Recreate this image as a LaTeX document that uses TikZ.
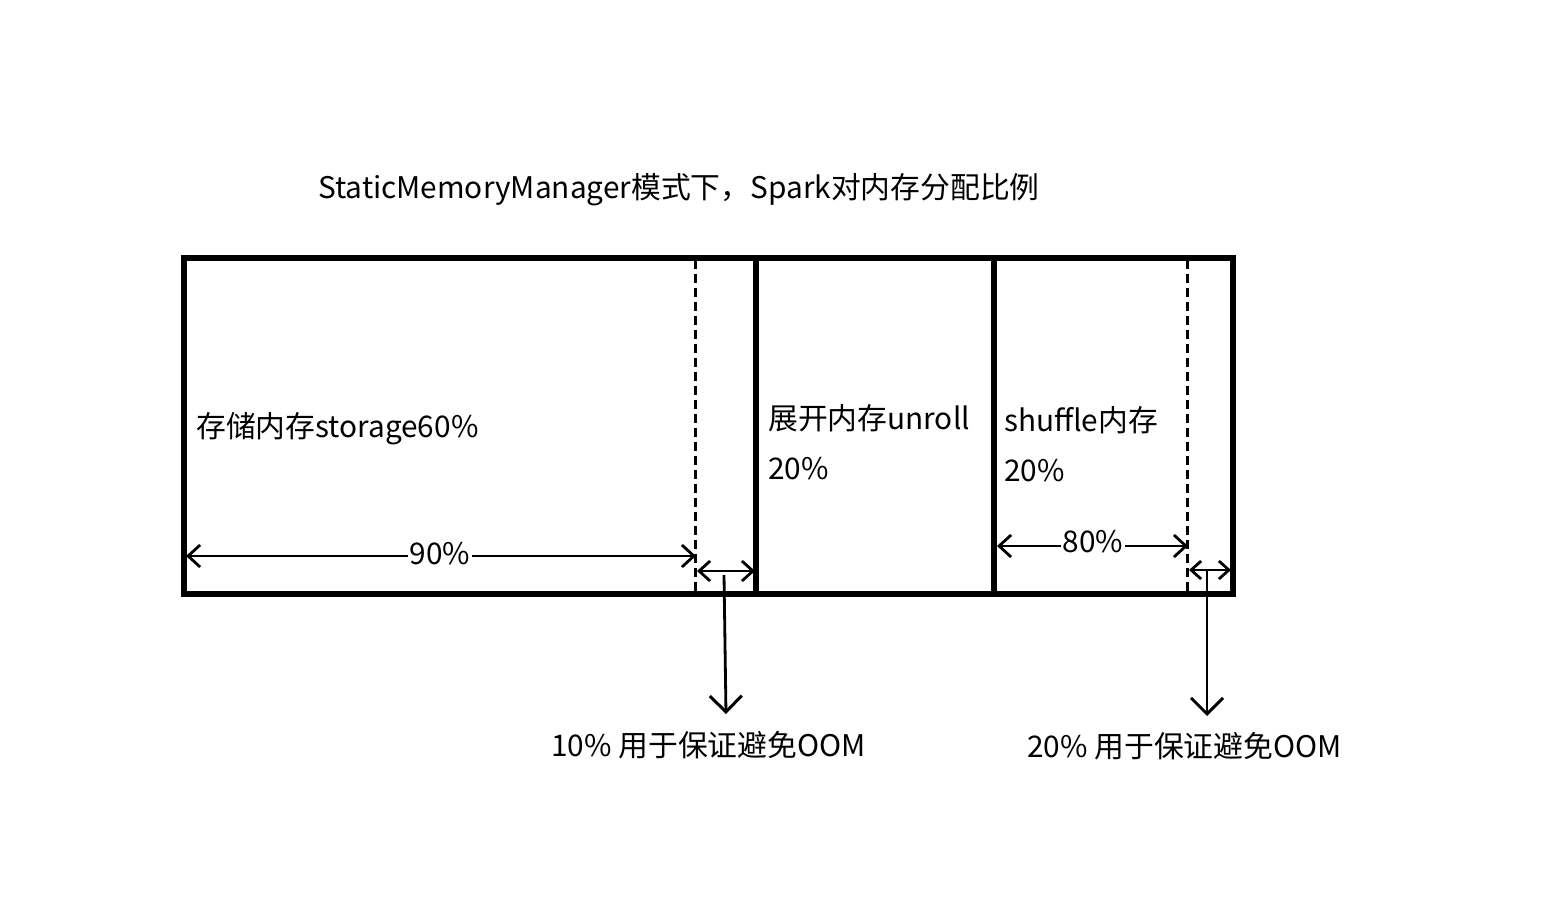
\documentclass[tikz,border=0pt]{standalone}
\usepackage{fontspec}
\setmainfont{Noto Sans CJK SC}
\usetikzlibrary{arrows.meta}
\begin{document}
\begin{tikzpicture}[x=1pt,y=-1pt,
  lbl/.style={anchor=base west,inner sep=0pt,font=\fontsize{29.8}{34}\selectfont},
  pct/.style={inner sep=2pt,font=\fontsize{29.8}{34}\selectfont},
  dimline/.style={line width=2.8pt},
  downarrow/.style={line width=2.8pt,-{Straight Barb[length=16pt,width=32pt,line width=3pt]}},
  frame/.style={line width=5.4pt},
  dashline/.style={line width=3pt,dash pattern=on 9pt off 5pt}]
\useasboundingbox (0,0) rectangle (1560,910);
% frame and dividers
\draw[frame] (184,258) rectangle (1233,594);
\draw[frame] (756,258) -- (756,597);
\draw[frame] (994,258) -- (994,594);
\draw[dashline] (695,260) -- (695,594);
\draw[dashline] (1187,260) -- (1187,594);
% texts
\node[lbl] (title) at (318,198) {StaticMemoryManager模式下，Spark对内存分配比例};
\node[lbl] (storage) at (196,437) {存储内存storage60\%};
\node[lbl] (unroll) at (768,429) {展开内存unroll};
\node[lbl] (unrollp) at (768,479) {20\%};
\node[lbl] (shuffle) at (1004,431) {shuffle内存};
\node[lbl] (shufflep) at (1004,481) {20\%};
\node[lbl] (oom1) at (551,756) {10\% 用于保证避免OOM};
\node[lbl] (oom2) at (1027,757) {20\% 用于保证避免OOM};
% 90% dimension
\coordinate (a1) at (186,556);
\coordinate (a2) at (696,556);
\node[pct] (p90) at (440,554) {90\%};
\draw[dimline,{Straight Barb[length=12pt,width=22pt,line width=2.8pt]}-] (a1) -- (a1 -| p90.west);
\draw[dimline,-{Straight Barb[length=12pt,width=22pt,line width=2.8pt]}] (a2 -| p90.east) -- (a2);
% 80% dimension
\coordinate (b1) at (997,546);
\coordinate (b2) at (1188,546);
\node[pct] (p80) at (1093,542) {80\%};
\draw[dimline,{Straight Barb[length=12pt,width=22pt,line width=2.8pt]}-] (b1) -- (b1 -| p80.west);
\draw[dimline,-{Straight Barb[length=12pt,width=22pt,line width=2.8pt]}] (b2 -| p80.east) -- (b2);
% small dims
\coordinate (c1) at (697,571);
\coordinate (c2) at (755,571);
\draw[dimline,{Straight Barb[length=11pt,width=20pt,line width=2.8pt]}-{Straight Barb[length=11pt,width=20pt,line width=2.8pt]}] (c1) -- (c2);
\coordinate (d1) at (1189,570);
\coordinate (d2) at (1231,570);
\draw[dimline,{Straight Barb[length=10pt,width=18pt,line width=2.8pt]}-{Straight Barb[length=10pt,width=18pt,line width=2.8pt]}] (d1) -- (d2);
% down arrows
\coordinate (e1) at (724,575);
\coordinate (e2) at (726,714);
\draw[downarrow] (e1) -- (e2);
\coordinate (f1) at (1207,571);
\coordinate (f2) at (1207,716);
\draw[downarrow] (f1) -- (f2);
\end{tikzpicture}
\end{document}
